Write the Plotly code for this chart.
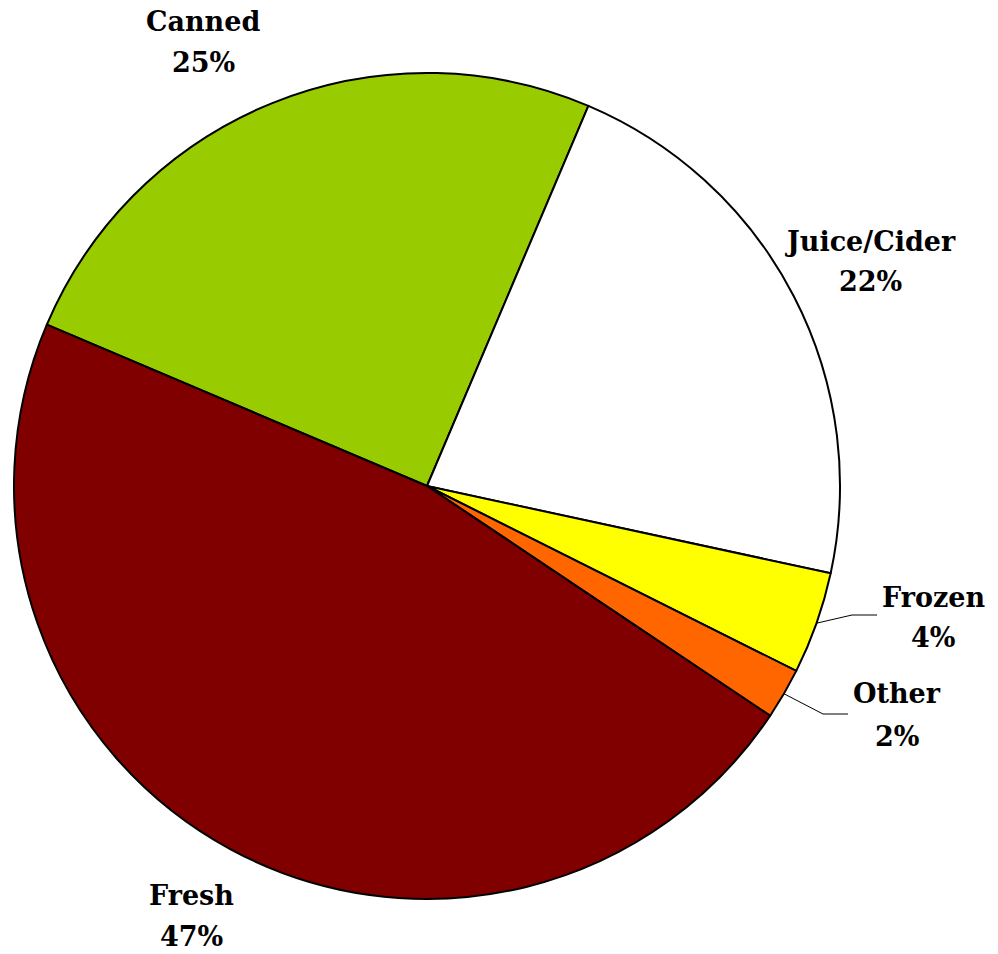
import math
import plotly.graph_objects as go

# apple utilisation shares (percent)
categories = ['Canned', 'Juice/Cider', 'Frozen', 'Other', 'Fresh']
shares = [25, 22, 4, 2, 47]
colors = ['#99CC00', '#FFFFFF', '#FFFF00', '#FF6600', '#800000']

W, H = 998, 954
CX, CY, R = 427, 486, 413
ROTATION = -67
FONT = dict(family='DejaVu Serif', size=27, color='black')

# label centres in pixels (name line, percent line)
label_pos = {
    'Canned': (203, 22, 62),
    'Juice/Cider': (870, 241, 282),
    'Frozen': (933, 597, 637),
    'Other': (897, 693, 736),
    'Fresh': (191, 895, 936),
}
# leader line elbows for the small slices
leaders = {
    'Frozen': [(852, 615), (877, 615)],
    'Other': [(823, 714), (848, 714)],
}


def px(x, y):
    return x / W, 1 - y / H


fig = go.Figure(go.Pie(
    labels=categories,
    values=shares,
    sort=False,
    direction='clockwise',
    rotation=ROTATION,
    marker=dict(colors=colors, line=dict(color='black', width=2)),
    textinfo='none',
    hoverinfo='label+percent',
    domain=dict(x=[(CX - R) / W, (CX + R) / W],
                y=[(H - CY - R) / H, (H - CY + R) / H]),
))

annotations = []
for cat, val in zip(categories, shares):
    x, y1, y2 = label_pos[cat]
    for text, y in ((cat, y1), (f'{val}%', y2)):
        ax, ay = px(x, y)
        annotations.append(dict(
            x=ax, y=ay, xref='paper', yref='paper', text=f'<b>{text}</b>',
            showarrow=False, xanchor='center', yanchor='middle', font=FONT))

# leader lines start at the mid-angle of their slice
shapes = []
total = sum(shares)
start = ROTATION
for cat, val in zip(categories, shares):
    span = 360 * val / total
    mid = start + span / 2
    start += span
    if cat not in leaders:
        continue
    sx = CX + R * math.sin(math.radians(mid))
    sy = CY - R * math.cos(math.radians(mid))
    pts = [(sx, sy)] + leaders[cat]
    for (x0, y0), (x1, y1) in zip(pts[:-1], pts[1:]):
        p0, p1 = px(x0, y0), px(x1, y1)
        shapes.append(dict(type='line', xref='paper', yref='paper',
                           x0=p0[0], y0=p0[1], x1=p1[0], y1=p1[1],
                           line=dict(color='black', width=1)))

fig.update_layout(
    width=W, height=H,
    margin=dict(l=0, r=0, t=0, b=0),
    paper_bgcolor='white',
    plot_bgcolor='white',
    showlegend=False,
    annotations=annotations,
    shapes=shapes,
)

# drop the default body margin so the figure sits at the page corner
fig.write_html("out.html", config={'displayModeBar': False},
               post_script="document.body.style.margin = '0';")
